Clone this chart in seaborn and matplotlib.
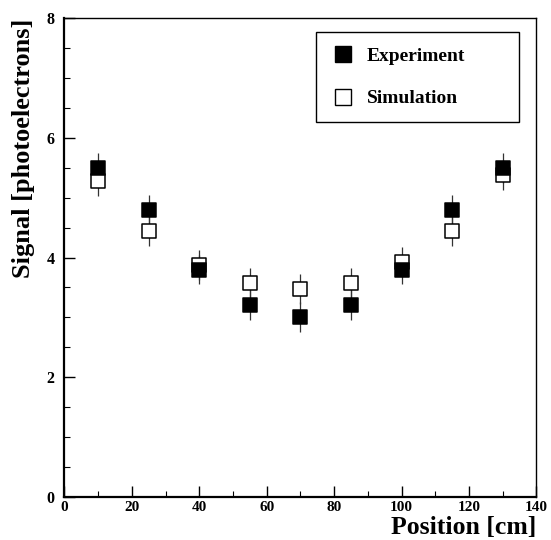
import matplotlib
matplotlib.use("Agg")
import matplotlib.pyplot as plt
import seaborn as sns
import pandas as pd
from matplotlib.lines import Line2D
from matplotlib.ticker import MultipleLocator

# ---- data ----
positions = [10, 25, 40, 55, 70, 85, 100, 115, 130]
experiment = [5.50, 4.80, 3.80, 3.20, 3.00, 3.20, 3.80, 4.80, 5.50]
simulation = [5.28, 4.44, 3.87, 3.57, 3.47, 3.58, 3.92, 4.45, 5.38]
exp_err = [0.25] * 9
sim_err = [0.25] * 9
xticks = [0, 20, 40, 60, 80, 100, 120, 140]
yticks = [0, 2, 4, 6, 8]

sns.set_theme(style="ticks")
plt.rcParams["font.family"] = ["Liberation Serif", "DejaVu Serif"]
plt.rcParams["font.weight"] = "bold"
plt.rcParams["text.color"] = "black"
plt.rcParams["axes.labelcolor"] = "black"
plt.rcParams["xtick.color"] = "black"
plt.rcParams["ytick.color"] = "black"

df_exp = pd.DataFrame({"pos": positions, "val": experiment})
df_sim = pd.DataFrame({"pos": positions, "val": simulation})

fig = plt.figure(figsize=(5.51, 5.40), dpi=100)
ax = fig.add_axes([0.117, 0.0796, 0.8565, 0.887])

ax.errorbar(positions, simulation, yerr=sim_err, fmt="none", ecolor="#333333",
            elinewidth=0.9, capsize=0, zorder=1)
ax.errorbar(positions, experiment, yerr=exp_err, fmt="none", ecolor="#333333",
            elinewidth=0.9, capsize=0, zorder=1)

sns.scatterplot(data=df_sim, x="pos", y="val", marker="s", s=90, color="white",
                edgecolor="black", linewidth=1.1, ax=ax, zorder=2, legend=False)
sns.scatterplot(data=df_exp, x="pos", y="val", marker="s", s=90, color="black",
                edgecolor="black", linewidth=1.1, ax=ax, zorder=3, legend=False)

ax.set_xlim(0, 140)
ax.set_ylim(0, 8)
ax.set_xticks(xticks)
ax.set_yticks(yticks)
ax.set_xticklabels([str(t) for t in xticks], fontsize=11, fontweight="bold", color="black")
ax.set_yticklabels([str(t) for t in yticks], fontsize=11.5, fontweight="bold", color="black")
ax.xaxis.set_minor_locator(MultipleLocator(10))
ax.yaxis.set_minor_locator(MultipleLocator(0.5))
ax.tick_params(which="both", direction="in", top=False, right=False, colors="black")
ax.tick_params(axis="x", which="major", length=8, width=1.0, pad=3)
ax.tick_params(axis="y", which="major", length=8, width=1.0, pad=7)
ax.tick_params(which="minor", length=4, width=0.8)

for side in ["left", "bottom"]:
    ax.spines[side].set_linewidth(1.6)
for side in ["top", "right"]:
    ax.spines[side].set_linewidth(1.0)
for s in ax.spines.values():
    s.set_color("black")

ax.set_xlabel("Position [cm]", fontsize=18.5, fontweight="bold", ha="right", color="black")
ax.xaxis.set_label_coords(1.0, -0.039)
ax.set_ylabel("Signal [photoelectrons]", fontsize=19, fontweight="bold", ha="right", color="black")
ax.yaxis.set_label_coords(-0.063, 0.998)

handles = [
    Line2D([], [], marker="s", linestyle="none", markersize=11.5,
           markerfacecolor="black", markeredgecolor="black", markeredgewidth=1.0),
    Line2D([], [], marker="s", linestyle="none", markersize=11.5,
           markerfacecolor="white", markeredgecolor="black", markeredgewidth=1.0),
]
leg = ax.legend(handles, ["Experiment", "Simulation"], loc="upper left",
                bbox_to_anchor=(0.534, 0.7835, 0.43, 0.1865), mode="expand",
                frameon=True, fancybox=False, shadow=False, framealpha=1,
                edgecolor="black", prop={"family": "Liberation Serif", "weight": "bold", "size": 14},
                borderpad=0.75, labelspacing=1.3, handlelength=1.2, handletextpad=0.65,
                borderaxespad=0)
leg.get_frame().set_linewidth(1.0)
for t in leg.get_texts():
    t.set_color("black")

fig.savefig("out.png", dpi=100)
